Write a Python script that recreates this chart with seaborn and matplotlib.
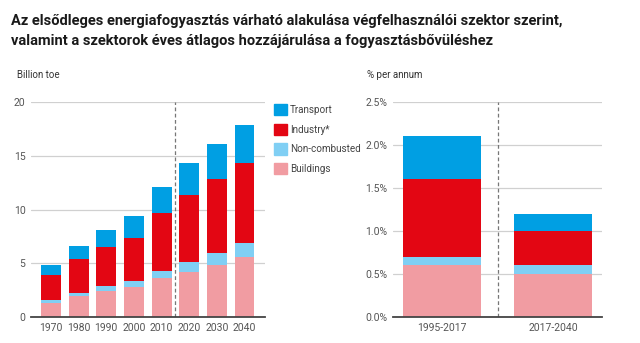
import matplotlib
matplotlib.use("Agg")
import matplotlib.pyplot as plt
import matplotlib.patches as mpatches
import seaborn as sns
import pandas as pd
import numpy as np

# ---- data ----
years = ["1970", "1980", "1990", "2000", "2010", "2020", "2030", "2040"]
buildings = [1.3, 2.0, 2.4, 2.8, 3.65, 4.2, 4.85, 5.6]
non_combusted = [0.25, 0.2, 0.45, 0.55, 0.6, 0.95, 1.1, 1.3]
industry = [2.35, 3.2, 3.65, 4.0, 5.4, 6.2, 6.9, 7.4]
transport = [0.95, 1.25, 1.6, 2.0, 2.45, 3.0, 3.25, 3.55]

periods = ["1995-2017", "2017-2040"]
r_buildings = [0.6, 0.5]
r_non_combusted = [0.1, 0.1]
r_industry = [0.9, 0.4]
r_transport = [0.5, 0.2]

sectors = ["Transport", "Industry*", "Non-combusted", "Buildings"]
colors = {"Transport": "#009FE3", "Industry*": "#E30613",
          "Non-combusted": "#80CFF4", "Buildings": "#F19CA2"}

title = ("Az elsődleges energiafogyasztás várható alakulása végfelhasználói szektor szerint,\n"
         "valamint a szektorok éves átlagos hozzájárulása a fogyasztásbővüléshez")

sns.set_style("white")
plt.rcParams["font.family"] = ["Roboto", "DejaVu Sans"]

fig = plt.figure(figsize=(6.4, 3.43), dpi=100)
axL = fig.add_axes([31/640, 1-317/343, (265-31)/640, (317-102)/343])
axR = fig.add_axes([393/640, 1-317/343, (602-393)/640, (317-102)/343])


def stacked(ax, cats, b, n, i, t, width):
    b = np.array(b); n = np.array(n); i = np.array(i); t = np.array(t)
    layers = [("Transport", b + n + i + t), ("Industry*", b + n + i),
              ("Non-combusted", b + n), ("Buildings", b)]
    for name, vals in layers:
        df = pd.DataFrame({"cat": cats, "val": vals})
        sns.barplot(data=df, x="cat", y="val", color=colors[name], width=width,
                    saturation=1, ax=ax, linewidth=0, errorbar=None, zorder=3)


stacked(axL, years, buildings, non_combusted, industry, transport, 0.72)
stacked(axR, periods, r_buildings, r_non_combusted, r_industry, r_transport, 0.70)

tick_col = "#555555"
for ax in (axL, axR):
    ax.set_xlabel("")
    ax.set_ylabel("")
    for s in ("top", "right", "left"):
        ax.spines[s].set_visible(False)
    ax.spines["bottom"].set_color("#444444")
    ax.spines["bottom"].set_linewidth(1.3)
    ax.spines["bottom"].set_zorder(5)
    ax.grid(axis="y", color="#d0d0d0", linewidth=0.9, zorder=0)
    ax.tick_params(axis="both", length=0, labelsize=7.5, labelcolor=tick_col, pad=4)

axL.set_xlim(-0.72, 7.74)
axL.set_ylim(0, 20)
axL.set_yticks([0, 5, 10, 15, 20])
axL.axvline(4.5, ymin=0, ymax=1, color="#777777", linestyle=(0, (3, 2)), linewidth=0.9, zorder=4)

axR.set_xlim(-0.44, 1.44)
axR.set_ylim(0, 2.5)
axR.set_yticks([0, 0.5, 1.0, 1.5, 2.0, 2.5])
axR.set_yticklabels([f"{v:.1f}%" for v in [0, 0.5, 1.0, 1.5, 2.0, 2.5]])
axR.axvline(0.5, ymin=0, ymax=1, color="#777777", linestyle=(0, (3, 2)), linewidth=0.9, zorder=4)

fig.text(17/640, 1-75/343, "Billion toe", fontsize=7, color="#333333", va="center")
fig.text(367/640, 1-75/343, "% per annum", fontsize=7, color="#333333", va="center")

# legend
handles = [mpatches.Patch(color=colors[s], label=s) for s in sectors]
fig.legend(handles=handles, loc="upper left", bbox_to_anchor=(270/640, 1-100/343),
           frameon=False, fontsize=7.1, labelcolor="#444444", handlelength=1.35,
           handleheight=1.35, handletextpad=0.3, labelspacing=0.88, borderaxespad=0)

fig.text(11/640, 1-14/343, title, fontsize=10.5, fontweight="bold", color="#1a1a1a",
         va="top", ha="left", linespacing=1.5)

fig.savefig("out.png", dpi=100)
